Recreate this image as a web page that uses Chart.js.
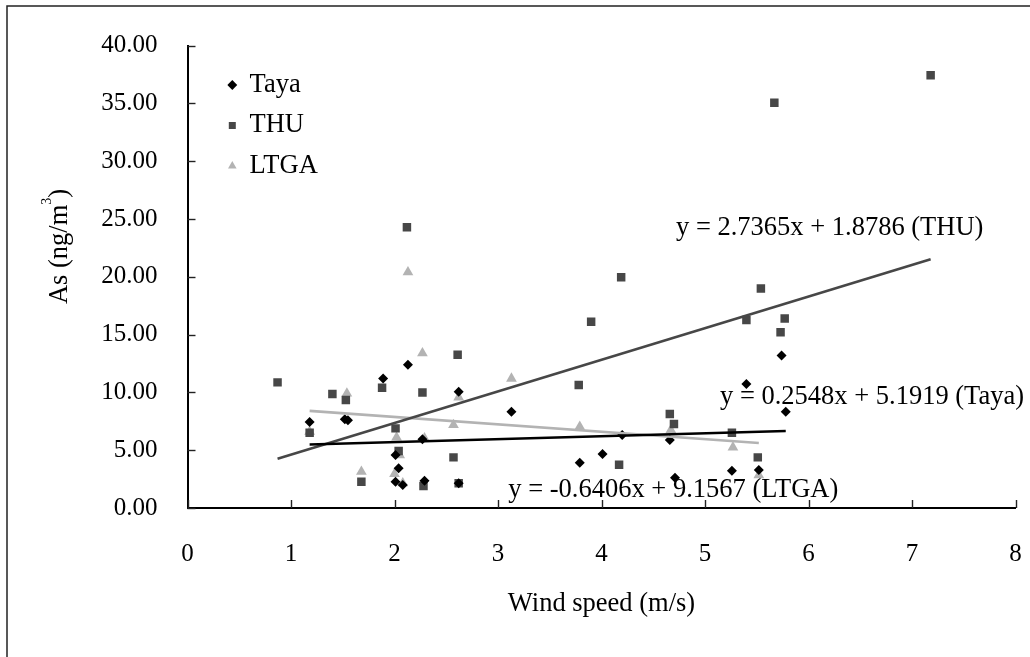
<!DOCTYPE html>
<html><head><meta charset="utf-8">
<script src="https://cdn.jsdelivr.net/npm/chart.js@4.4.1/dist/chart.umd.min.js"></script>
<style>html,body{margin:0;padding:0;background:#fff;}canvas{display:block;}</style>
</head><body>
<canvas id="c" width="1030" height="657"></canvas>
<script>
// ---- data ----
const seriesNames = ['Taya', 'THU', 'LTGA'];
const tayaX = [1.18, 1.52, 1.55, 1.89, 2.01, 2.04, 2.01, 2.08, 2.13, 2.27, 2.29, 2.62, 2.62, 3.13, 3.79, 4.01, 4.20, 4.66, 4.71, 5.26, 5.40, 5.52, 5.74, 5.78];
const tayaY = [7.44, 7.67, 7.59, 11.2, 4.58, 3.43, 2.28, 1.99, 12.4, 5.94, 2.36, 10.06, 2.14, 8.33, 3.92, 4.67, 6.31, 5.88, 2.62, 3.23, 10.73, 3.29, 13.2, 8.33];
const thuX = [0.87, 1.18, 1.40, 1.53, 1.68, 1.88, 2.01, 2.04, 2.12, 2.27, 2.28, 2.57, 2.61, 2.62, 3.78, 3.90, 4.17, 4.19, 4.66, 4.70, 5.26, 5.40, 5.51, 5.54, 5.67, 5.73, 5.77, 7.18];
const thuY = [10.87, 6.51, 9.86, 9.34, 2.28, 10.41, 6.89, 4.93, 24.3, 10.0, 1.90, 4.38, 13.26, 2.14, 10.64, 16.12, 3.75, 19.96, 8.13, 7.27, 6.51, 16.26, 4.38, 19.0, 35.06, 15.2, 16.4, 37.45];
const ltgaX = [1.18, 1.54, 1.68, 2.00, 2.02, 2.05, 2.08, 2.13, 2.27, 2.29, 2.57, 2.62, 3.13, 3.79, 4.67, 5.27, 5.52];
const ltgaY = [6.6, 9.92, 3.14, 2.94, 6.11, 4.58, 2.14, 20.4, 13.4, 6.03, 7.18, 9.58, 11.2, 7.03, 6.75, 5.25, 2.85];
const trendSlope = [0.2548, 2.7365, -0.6406];
const trendIntercept = [5.1919, 1.8786, 9.1567];
const trendLabels = ['y = 0.2548x + 5.1919 (Taya)', 'y = 2.7365x + 1.8786 (THU)', 'y = -0.6406x + 9.1567 (LTGA)'];
const xTickValues = [0, 1, 2, 3, 4, 5, 6, 7, 8];
const yTickValues = [0, 5, 10, 15, 20, 25, 30, 35, 40];
const xTitle = 'Wind speed (m/s)';
const yTitleMain = 'As (ng/m';
const yTitleSup = '3';
const yTitleEnd = ')';

// ---- styles ----
const SERIF = '"Liberation Serif", "Times New Roman", serif';
const colors = ['#000000', '#474747', '#b3b3b3'];
const styles = ['rectRot', 'rect', 'triangle'];
const radii = [5, 6, 6.2];

const xsAll = [tayaX, thuX, ltgaX];
const ysAll = [tayaY, thuY, ltgaY];

const trendDatasets = seriesNames.map((n, i) => {
  const xs = xsAll[i];
  const lo = Math.min(...xs), hi = Math.max(...xs);
  return {
    type: 'line', label: n + ' trend',
    data: [lo, hi].map(v => ({x: v, y: trendSlope[i] * v + trendIntercept[i]})),
    borderColor: colors[i], borderWidth: 2.6, pointRadius: 0, fill: false, tension: 0
  };
});
const pointDatasets = seriesNames.map((n, i) => ({
  type: 'scatter', label: n,
  data: xsAll[i].map((v, k) => ({x: v, y: ysAll[i][k]})),
  pointStyle: styles[i], pointRadius: radii[i],
  backgroundColor: colors[i], borderColor: colors[i], borderWidth: 0,
  pointBackgroundColor: colors[i], pointBorderWidth: 0
}));

const decoPlugin = {
  id: 'deco',
  afterLayout(chart) {
    const lg = chart.legend;
    if (lg) {
      const w = lg.width, h = lg.height;
      lg.left = chart.chartArea.left + 26.8; lg.right = lg.left + w;
      lg.top = chart.chartArea.top + 12; lg.bottom = lg.top + h;
    }
  },
  beforeDraw(chart) {
    const ctx = chart.ctx;
    ctx.save();
    ctx.fillStyle = '#fff';
    ctx.fillRect(0, 0, chart.width, chart.height);
    ctx.strokeStyle = '#222'; ctx.lineWidth = 1.5;
    ctx.beginPath();
    ctx.moveTo(7, chart.height); ctx.lineTo(7, 6); ctx.lineTo(chart.width, 6);
    ctx.stroke();
    ctx.restore();
  },
  afterDatasetsDraw(chart) {
    const {ctx, scales: {x, y}} = chart;
    ctx.save();
    ctx.strokeStyle = '#222'; ctx.lineWidth = 1.4;
    x.ticks.forEach(t => {
      const px = Math.round(x.getPixelForValue(t.value)) + 0.5;
      ctx.beginPath(); ctx.moveTo(px, y.bottom); ctx.lineTo(px, y.bottom - 8); ctx.stroke();
    });
    y.ticks.forEach(t => {
      const py = Math.round(y.getPixelForValue(t.value)) + 0.5;
      ctx.beginPath(); ctx.moveTo(x.left, py); ctx.lineTo(x.left + 8, py); ctx.stroke();
    });
    // trendline equations
    ctx.fillStyle = '#000';
    ctx.font = '26.5px ' + SERIF;
    ctx.textBaseline = 'alphabetic';
    ctx.textAlign = 'left';
    const anchors = [[5.145, 9.0], [4.72, 23.6], [3.10, 0.98]];
    trendLabels.forEach((s, i) => {
      ctx.fillText(s, x.getPixelForValue(anchors[i][0]), y.getPixelForValue(anchors[i][1]));
    });
    ctx.restore();
  },
  afterDraw(chart) {
    const ctx = chart.ctx;
    ctx.save();
    ctx.fillStyle = '#000';
    ctx.translate(67, 246.5);
    ctx.rotate(-Math.PI / 2);
    ctx.textBaseline = 'alphabetic';
    const big = '26.5px ' + SERIF, small = '14px ' + SERIF;
    ctx.font = big; const w1 = ctx.measureText(yTitleMain).width; const w3 = ctx.measureText(yTitleEnd).width;
    ctx.font = small; const w2 = ctx.measureText(yTitleSup).width;
    let sx = -(w1 + w2 + w3) / 2;
    ctx.font = big; ctx.fillText(yTitleMain, sx, 0);
    ctx.font = small; ctx.fillText(yTitleSup, sx + w1, -16);
    ctx.font = big; ctx.fillText(yTitleEnd, sx + w1 + w2, 0);
    ctx.restore();
  }
};

new Chart(document.getElementById('c'), {
  data: { datasets: [...trendDatasets, ...pointDatasets] },
  options: {
    responsive: false, animation: false,
    layout: { padding: { left: 0, top: 45.7, right: 14.5, bottom: 0 } },
    plugins: {
      tooltip: { enabled: false },
      legend: {
        position: 'chartArea', align: 'start',
        labels: {
          usePointStyle: true, boxWidth: 8, boxHeight: 7, padding: 14,
          color: '#000', font: { family: SERIF, size: 26.5 },
          filter: item => item.datasetIndex >= 3
        }
      }
    },
    scales: {
      x: {
        type: 'linear', min: 0, max: 8,
        afterFit: s => { s.height = 149; s.paddingLeft = 0; s.paddingRight = 0; },
        afterBuildTicks: s => { s.ticks = xTickValues.map(v => ({value: v})); },
        grid: { display: false },
        border: { display: true, color: '#000', width: 2 },
        ticks: { color: '#000', font: { family: SERIF, size: 25 }, padding: 23, maxRotation: 0 },
        title: { display: true, text: xTitle, color: '#000', font: { family: SERIF, size: 26.5 }, padding: { top: 0, bottom: 37 } }
      },
      y: {
        type: 'linear', min: 0, max: 40,
        afterFit: s => { s.width = 187.5; },
        afterBuildTicks: s => { s.ticks = yTickValues.map(v => ({value: v})); },
        grid: { display: false },
        border: { display: true, color: '#000', width: 2 },
        ticks: { color: '#000', font: { family: SERIF, size: 25 }, padding: 22, callback: v => Number(v).toFixed(2) }
      }
    }
  },
  plugins: [decoPlugin]
});
</script>
</body></html>
